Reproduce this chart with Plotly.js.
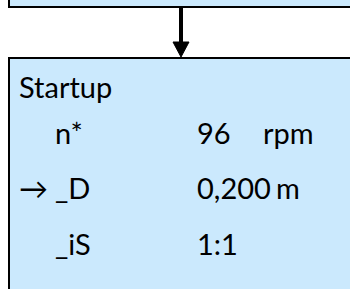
<!DOCTYPE html>
<html><head><meta charset="utf-8">
<script src="https://cdn.plot.ly/plotly-3.0.1.min.js"></script>
<style>html,body{margin:0;padding:0;background:#fff}#c{width:350px;height:289px}</style>
</head><body><div id="c"></div>
<script>
const blockTitle = "Startup";
const paramNames = ["n*", "_D", "_iS"];
const paramValues = ["96", "0,200", "1:1"];
const paramUnits = ["rpm", "m", ""];
const activeRow = 1; // row marked with the arrow

const FONT = "Lato, 'Noto Sans', sans-serif";
const fsz = 29;
const rowY = [137, 192, 248];
const titleY = 91;
const titleX = 19, nameX = 55, valueX = 197;
const unitX = [263, 276, 0];

const traces = [
  {x:[titleX], y:[titleY], text:[blockTitle], mode:"text", textposition:"middle right",
   textfont:{family:FONT,size:fsz,color:"#000"}, hoverinfo:"skip"},
  {x:paramNames.map(()=>nameX), y:rowY, text:paramNames, mode:"text", textposition:"middle right",
   textfont:{family:FONT,size:fsz,color:"#000"}, hoverinfo:"skip"},
  {x:paramValues.map(()=>valueX), y:rowY, text:paramValues, mode:"text", textposition:"middle right",
   textfont:{family:FONT,size:fsz,color:"#000"}, hoverinfo:"skip"},
  {x:unitX.filter((_,i)=>paramUnits[i]), y:rowY.filter((_,i)=>paramUnits[i]),
   text:paramUnits.filter(u=>u), mode:"text", textposition:"middle right",
   textfont:{family:FONT,size:fsz,color:"#000"}, hoverinfo:"skip"},
  {x:[titleX], y:[rowY[activeRow]], text:["\u2192"], mode:"text", textposition:"middle right",
   textfont:{family:FONT,size:fsz,color:"#000"}, hoverinfo:"skip"}
];

const fill = "#cbe9fd";
const layout = {
  width:350, height:289, margin:{l:0,r:0,t:0,b:0},
  paper_bgcolor:"#fff", plot_bgcolor:"#fff", showlegend:false,
  xaxis:{range:[0,350], visible:false, fixedrange:true},
  yaxis:{range:[289,0], visible:false, fixedrange:true},
  shapes:[
    {type:"rect", x0:9, x1:365, y0:-10, y1:7, fillcolor:fill, line:{color:"#000",width:2}, layer:"below"},
    {type:"rect", x0:9, x1:365, y0:58, y1:300, fillcolor:fill, line:{color:"#000",width:2}, layer:"below"},
    {type:"line", x0:181, x1:181, y0:7, y1:44, line:{color:"#000",width:4}},
    {type:"path", path:"M173,42 L189,42 L181,57 Z", fillcolor:"#000", line:{color:"#000",width:1}}
  ]
};
Plotly.newPlot("c", traces, layout, {staticPlot:true, displayModeBar:false});
</script></body></html>
